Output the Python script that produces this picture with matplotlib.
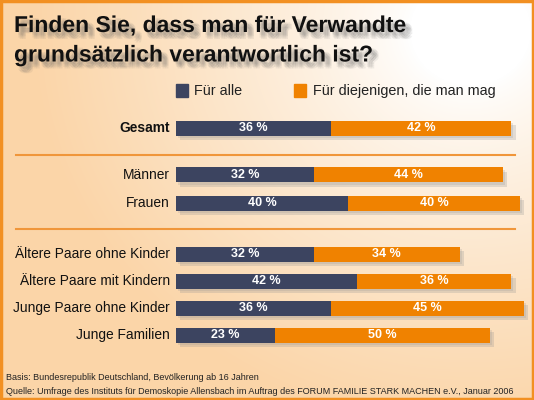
import matplotlib
matplotlib.use("Agg")
import matplotlib.pyplot as plt
import matplotlib.patheffects as pe
from matplotlib.colors import to_rgb
import numpy as np

plt.rcParams['font.family'] = ['Liberation Sans', 'DejaVu Sans']

categories = ["Gesamt", "Männer", "Frauen", "Ältere Paare ohne Kinder",
              "Ältere Paare mit Kindern", "Junge Paare ohne Kinder", "Junge Familien"]
fuer_alle = [36, 32, 40, 32, 42, 36, 23]
fuer_gemocht = [42, 44, 40, 34, 36, 45, 50]
series_names = ["Für alle", "Für diejenigen, die man mag"]

title = "Finden Sie, dass man für Verwandte\ngrundsätzlich verantwortlich ist?"
note1 = "Basis: Bundesrepublik Deutschland, Bevölkerung ab 16 Jahren"
note2 = ("Quelle: Umfrage des Instituts für Demoskopie Allensbach im Auftrag des "
         "FORUM FAMILIE STARK MACHEN e.V., Januar 2006")

navy = "#3c4460"
orange = "#f08200"
line_orange = "#f0963a"

W, H = 534, 400
fig = plt.figure(figsize=(W / 100, H / 100), dpi=100)

# background gradient (white top right, peach bottom left)
bg = fig.add_axes([0, 0, 1, 1])
bg.set_xlim(0, W)
bg.set_ylim(H, 0)
bg.axis("off")
xx, yy = np.meshgrid(np.arange(W), np.arange(H))
d = np.sqrt((xx - 470.0) ** 2 + ((yy - 30.0) * 1.1) ** 2)
t = np.clip((d - 60) / 380.0, 0, 1) ** 0.8
peach = np.array(to_rgb("#fbd5a8"))
white = np.array([1.0, 1.0, 1.0])
img = white[None, None, :] * (1 - t[..., None]) + peach[None, None, :] * t[..., None]
bg.imshow(img, extent=(0, W, H, 0), aspect="auto", zorder=0)
bg.add_patch(plt.Rectangle((1, 1), W - 2, H - 2, fill=False, ec="#f29022", lw=2.5, zorder=5))

# separators
for yl in (155, 229):
    bg.plot([16, 515], [yl, yl], color=line_orange, lw=1.5, zorder=2)

# title with soft shadow
title_fx = [pe.SimplePatchShadow(offset=(o[0], -o[1]), shadow_rgbFace="#606060", alpha=0.09)
            for o in [(2, 2), (3, 3), (4, 4), (2, 4), (4, 2), (5, 5), (3, 5), (5, 3)]]
title_fx.append(pe.Normal())
bg.text(14, 14, title, fontsize=16.5, fontweight="bold", color="#111111",
        va="top", ha="left", linespacing=1.36, zorder=4, path_effects=title_fx)

# legend
bg.add_patch(plt.Rectangle((176, 84), 12, 13, color=navy, zorder=4))
bg.text(194, 91, series_names[0], fontsize=10.4, va="center", ha="left", color="#222222", zorder=4)
bg.add_patch(plt.Rectangle((294, 84), 12, 13, color=orange, zorder=4))
bg.text(313, 91, series_names[1], fontsize=10.4, va="center", ha="left", color="#222222", zorder=4)

# footnotes
bg.text(6, 377, note1, fontsize=6.45, va="center", ha="left", color="#222222", zorder=4)
bg.text(6, 392, note2, fontsize=6.45, va="center", ha="left", color="#222222", zorder=4)

# bar axes: x0 at 176 px, 4.3 px per percent; row unit 27 px, row 0 at 128 px
px_per = 4.3
row_px = 27.0
ax_top, ax_bot = 100, 350
ax = fig.add_axes([176 / W, 1 - ax_bot / H, (W - 176) / W, (ax_bot - ax_top) / H])
ax.set_xlim(0, (W - 176) / px_per)
ax.set_ylim((ax_bot - 128) / row_px, (ax_top - 128) / row_px)
ax.axis("off")
ax.patch.set_alpha(0)

rows = [0, 1.74, 2.78, 4.67, 5.67, 6.67, 7.67]
shadow = [pe.SimplePatchShadow(offset=(3, -3), shadow_rgbFace="#909090", alpha=0.25),
          pe.SimplePatchShadow(offset=(1.5, -1.5), shadow_rgbFace="#909090", alpha=0.2),
          pe.Normal()]
b1 = ax.barh(rows, fuer_alle, height=15 / row_px, color=navy, zorder=3)
b2 = ax.barh(rows, fuer_gemocht, left=fuer_alle, height=15 / row_px, color=orange, zorder=3)
for b in list(b1) + list(b2):
    b.set_path_effects(shadow)

for i, (r, a, g) in enumerate(zip(rows, fuer_alle, fuer_gemocht)):
    ax.text(a / 2, r, f"{a} %", color="white", fontsize=9, fontweight="bold",
            ha="center", va="center", zorder=4)
    ax.text(a + g / 2, r, f"{g} %", color="white", fontsize=9, fontweight="bold",
            ha="center", va="center", zorder=4)
    ax.text(-6 / px_per, r, categories[i], fontsize=9.9, ha="right", va="center",
            fontweight="bold" if i == 0 else "normal", color="#111111", clip_on=False)

fig.savefig("out.png", dpi=100)
plt.close(fig)
